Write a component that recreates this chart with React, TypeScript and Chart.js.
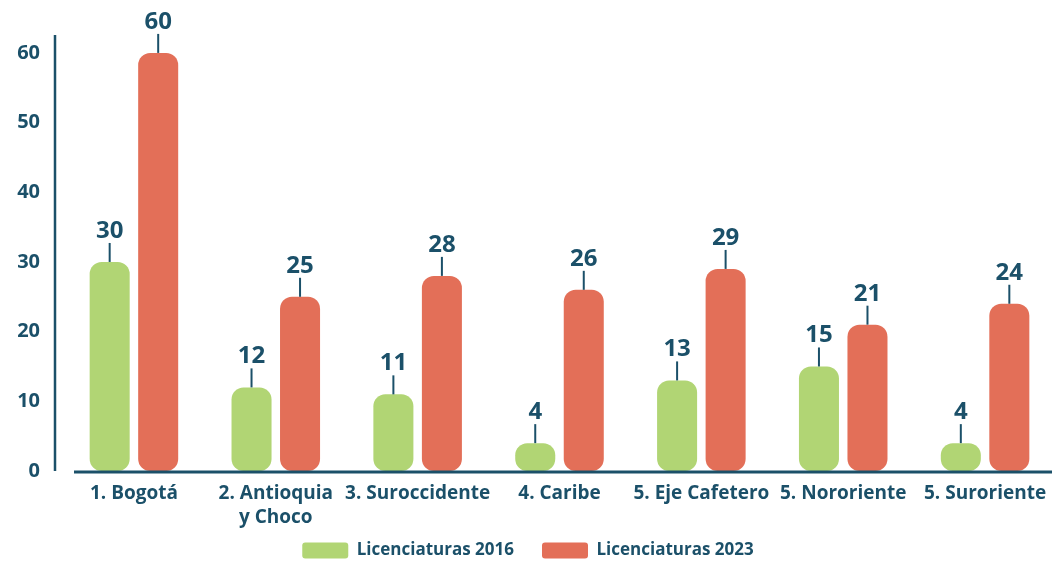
import React, { useEffect, useRef } from 'react';
import { Chart, registerables } from 'chart.js';

Chart.register(...registerables);

const categories: (string | string[])[] = [
  '1. Bogotá',
  ['2. Antioquia', 'y Choco'],
  '3. Suroccidente',
  '4. Caribe',
  '5. Eje Cafetero',
  '5. Nororiente',
  '5. Suroriente',
];
const seriesNames = ['Licenciaturas 2016', 'Licenciaturas 2023'];
const values2016 = [30, 12, 11, 4, 13, 15, 4];
const values2023 = [60, 25, 28, 26, 29, 21, 24];
const yTicks = [0, 10, 20, 30, 40, 50, 60];

const TEAL = '#1b5069';
const GREEN = '#b1d574';
const RED = '#e36f58';
const FONT = "'Open Sans', sans-serif";

const valueLabels = {
  id: 'valueLabels',
  afterDatasetsDraw(chart: any) {
    const ctx = chart.ctx;
    ctx.save();
    chart.data.datasets.forEach((ds: any, di: number) => {
      const meta = chart.getDatasetMeta(di);
      meta.data.forEach((bar: any, i: number) => {
        const v = ds.data[i];
        const x = bar.x;
        const y = bar.y;
        ctx.strokeStyle = TEAL;
        ctx.lineWidth = 2;
        ctx.beginPath();
        ctx.moveTo(x, y);
        ctx.lineTo(x, y - 19);
        ctx.stroke();
        ctx.fillStyle = TEAL;
        ctx.font = `700 24px ${FONT}`;
        ctx.textAlign = 'center';
        ctx.textBaseline = 'alphabetic';
        ctx.fillText(String(v), x, y - 24);
      });
    });
    ctx.restore();
  },
};

const axisLines = {
  id: 'axisLines',
  afterDatasetsDraw(chart: any) {
    const { ctx, chartArea } = chart;
    ctx.save();
    ctx.strokeStyle = TEAL;
    ctx.lineWidth = 2.5;
    ctx.beginPath();
    ctx.moveTo(chartArea.left - 8, chartArea.top);
    ctx.lineTo(chartArea.left - 8, chartArea.bottom);
    ctx.stroke();
    ctx.lineWidth = 3;
    ctx.beginPath();
    ctx.moveTo(chartArea.left + 11, chartArea.bottom + 1);
    ctx.lineTo(chartArea.right, chartArea.bottom + 1);
    ctx.stroke();
    ctx.restore();
  },
};

const legendShift = {
  id: 'legendShift',
  afterLayout(chart: any) {
    const l = chart.legend;
    if (l) {
      l.top -= 19;
      l.bottom -= 19;
    }
  },
};

export default function App() {
  const ref = useRef<HTMLCanvasElement>(null);
  useEffect(() => {
    if (!ref.current) return;
    const chart = new Chart(ref.current, {
      type: 'bar',
      data: {
        labels: categories,
        datasets: [
          {
            label: seriesNames[0],
            data: values2016,
            backgroundColor: GREEN,
            borderRadius: 12,
            borderSkipped: false,
            categoryPercentage: 0.684,
            barPercentage: 0.825,
          },
          {
            label: seriesNames[1],
            data: values2023,
            backgroundColor: RED,
            borderRadius: 12,
            borderSkipped: false,
            categoryPercentage: 0.684,
            barPercentage: 0.825,
          },
        ],
      },
      options: {
        animation: false,
        responsive: false,
        layout: { padding: { top: 34, right: 4, left: 0, bottom: 0 } },
        plugins: {
          tooltip: { enabled: false },
          legend: {
            position: 'bottom',
            labels: {
              boxWidth: 46,
              boxHeight: 16,
              useBorderRadius: true,
              borderRadius: 3,
              padding: 28,
              color: TEAL,
              font: { family: FONT, size: 17, weight: 'bold' },
            },
          },
        },
        scales: {
          x: {
            grid: { display: false, drawTicks: false },
            border: { display: false },
            afterFit: (s: any) => {
              s.height = 62;
            },
            ticks: {
              color: TEAL,
              font: { family: FONT, size: 19, weight: 'bold', lineHeight: 1.26 },
              padding: 11,
              maxRotation: 0,
              autoSkip: false,
            },
          },
          y: {
            min: 0,
            max: 62.57,
            grid: { display: false, drawTicks: false },
            border: { display: false },
            afterFit: (s: any) => {
              s.width = 63;
            },
            afterBuildTicks: (s: any) => {
              s.ticks = yTicks.map((v) => ({ value: v }));
            },
            ticks: {
              color: TEAL,
              font: { family: FONT, size: 20, weight: 'bold' },
              padding: 23,
            },
          },
        },
      },
      plugins: [valueLabels, axisLines, legendShift],
    });
    return () => chart.destroy();
  }, []);
  return (
    <div style={{ position: 'absolute', left: 0, top: 0, width: 1052, height: 563, overflow: 'hidden', background: '#fff' }}>
      <canvas ref={ref} width={1060} height={588} style={{ display: 'block' }} />
    </div>
  );
}
